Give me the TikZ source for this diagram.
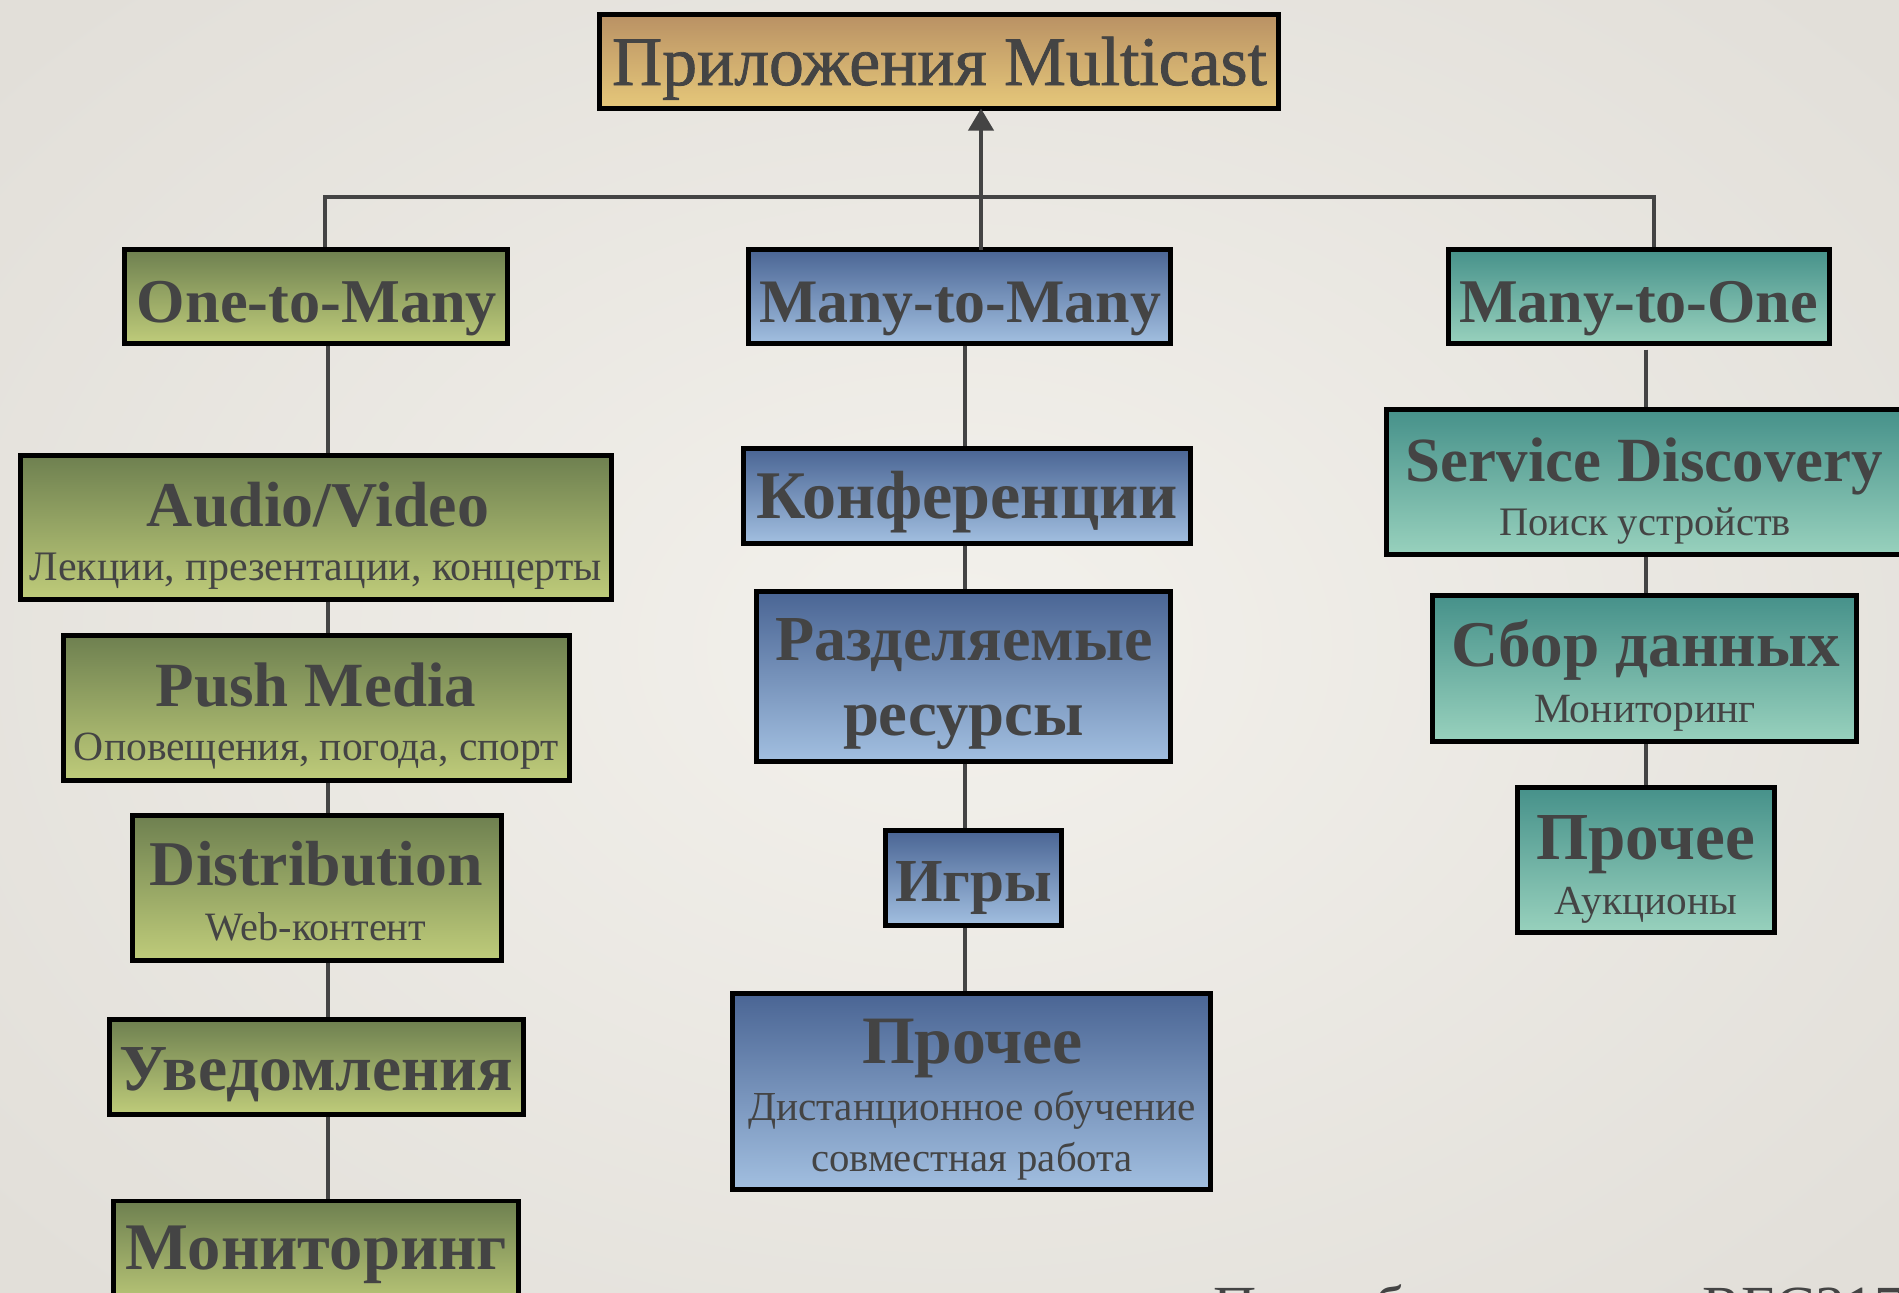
\documentclass[tikz,border=0pt]{standalone}
\usepackage{fontspec}
\setmainfont{Liberation Serif}
\newfontfamily\heavyserif[FakeBold=1.2]{Liberation Serif}
\usepackage{graphicx}
\usetikzlibrary{arrows.meta}

% one unit of the drawing grid
\newdimen\pxu \pxu=0.02cm
% set a text line at a given width (in grid units)
\newcommand\fitto[2]{\resizebox{#1\pxu}{!}{#2}}

\definecolor{ink}{RGB}{68,68,68}
\definecolor{paperC}{RGB}{243,241,236}
\definecolor{paperE}{RGB}{226,223,217}
\definecolor{goldT}{RGB}{185,145,100}
\definecolor{goldB}{RGB}{230,200,122}
\definecolor{greenT}{RGB}{110,128,80}
\definecolor{greenB}{RGB}{191,204,122}
\definecolor{blueT}{RGB}{74,101,148}
\definecolor{blueB}{RGB}{162,191,224}
\definecolor{tealT}{RGB}{70,145,138}
\definecolor{tealB}{RGB}{152,209,189}

\pgfdeclarelayer{bg}
\pgfsetlayers{bg,main}

\begin{document}
\begin{tikzpicture}[x=0.02cm,y=-0.02cm,
  box/.style 2 args={draw=black, line width=2.8pt, inner sep=0pt, outer sep=0pt,
    minimum width=#1*0.02cm, minimum height=#2*0.02cm},
  gold/.style={top color=goldT, bottom color=goldB},
  green/.style={top color=greenT, bottom color=greenB},
  blue/.style={top color=blueT, bottom color=blueB},
  teal/.style={top color=tealT, bottom color=tealB},
  ttltext/.style={anchor=base, inner sep=0pt, text=ink, font=\fontsize{30}{36}\heavyserif},
  lbl/.style={anchor=base, inner sep=0pt, text=ink, font=\fontsize{30}{36}\selectfont\bfseries},
  sub/.style={anchor=base, inner sep=0pt, text=ink, font=\fontsize{20}{24}\selectfont},
  conn/.style={draw=ink, line width=2.3pt},
  arr/.style={conn, -{Triangle[length=0.44cm, width=0.5cm]}}]

\useasboundingbox (0,0) rectangle (1899,1292);
\clip (0,0) rectangle (1899,1292);

% paper
\begin{pgfonlayer}{bg}
  \fill[inner color=paperC, outer color=paperE] (-300,-250) rectangle (2199,1542);
\end{pgfonlayer}

% root
\node[box={679}{94}, gold] (ttl) at (939,61.5) {};
\node[ttltext] (ttl-t) at (939.5,85) {\fitto{655}{Приложения Multicast}};

% categories
\node[box={383}{94}, green] (otm) at (316,296.5) {};
\node[lbl] (otm-t) at (317,322) {\fitto{360}{One-to-Many}};
\node[box={422}{94}, blue] (mtm) at (959.5,296.5) {};
\node[lbl] (mtm-t) at (960,322) {\fitto{402}{Many-to-Many}};
\node[box={381}{94}, teal] (mto) at (1639,296.5) {};
\node[lbl] (mto-t) at (1638.5,322) {\fitto{359}{Many-to-One}};

% one-to-many column
\node[box={591}{144}, green] (av) at (316,527.5) {};
\node[lbl] (av-t) at (318,526) {\fitto{342}{Audio/Video}};
\node[sub] (av-s) at (316,580) {\fitto{572}{Лекции, презентации, концерты}};
\node[box={506}{145}, green] (pm) at (316.5,708) {};
\node[lbl] (pm-t) at (316,706) {\fitto{320}{Push Media}};
\node[sub] (pm-s) at (316.5,760) {\fitto{485}{Оповещения, погода, спорт}};
\node[box={369}{145}, green] (ds) at (317,888) {};
\node[lbl] (ds-t) at (316.5,885) {\fitto{333}{Distribution}};
\node[sub] (ds-s) at (316,940) {\fitto{220}{Web-контент}};
\node[box={414}{95}, green] (uv) at (316.5,1067) {};
\node[lbl] (uv-t) at (316.5,1090) {\fitto{393}{Уведомления}};
\node[box={405}{110}, green] (mn) at (316,1256) {};
\node[lbl] (mn-t) at (316.5,1269) {\fitto{381}{Мониторинг}};

% many-to-many column
\node[box={447}{95}, blue] (cf) at (967,496) {};
\node[lbl] (cf-t) at (967,518) {\fitto{422}{Конференции}};
\node[box={414}{170}, blue] (rs) at (963.5,676.5) {};
\node[lbl] (rs-t) at (964,660) {\fitto{378}{Разделяемые}};
\node[lbl] (rs-t2) at (963.5,735) {\fitto{241}{ресурсы}};
\node[box={176}{95}, blue] (ig) at (973.5,878) {};
\node[lbl] (ig-t) at (973.5,901) {\fitto{157}{Игры}};
\node[box={478}{196}, blue] (pr) at (971.5,1091.5) {};
\node[lbl] (pr-t) at (972.5,1063) {\fitto{221}{Прочее}};
\node[sub] (pr-s) at (972,1120) {\fitto{448}{Дистанционное обучение}};
\node[sub] (pr-s2) at (972,1171) {\fitto{322}{совместная работа}};

% many-to-one column
\node[box={519}{145}, teal] (sd) at (1646,482) {};
\node[lbl] (sd-t) at (1644.5,481) {\fitto{477}{Service Discovery}};
\node[sub] (sd-s) at (1645,535) {\fitto{292}{Поиск устройств}};
\node[box={424}{146}, teal] (sb) at (1644.5,668.5) {};
\node[lbl] (sb-t) at (1645.5,666) {\fitto{389}{Сбор данных}};
\node[sub] (sb-s) at (1645,722) {\fitto{222}{Мониторинг}};
\node[box={257}{145}, teal] (po) at (1646,860) {};
\node[lbl] (po-t) at (1645.5,859) {\fitto{219}{Прочее}};
\node[sub] (po-s) at (1645.5,914) {\fitto{183}{Аукционы}};

% footnote, running off the lower edge
\node[anchor=base west, inner sep=0pt, text=ink, font=\fontsize{34}{40}\selectfont]
  (note) at (1213,1327) {Подробнее смотри RFC3170};

% connectors
\coordinate (hubL) at (325,197);
\coordinate (hubR) at (1654,197);
\coordinate (upX) at (981,197);
\coordinate (colL) at (328,0);
\coordinate (colM) at (965,0);
\coordinate (colR) at (1646,0);

\begin{pgfonlayer}{bg}
  \draw[conn] (otm.north -| hubL) -- (hubL) -- (hubR) -- (mto.north -| hubR);
  \draw[conn] (otm.south -| colL) -- (av.north -| colL);
  \draw[conn] (av.south -| colL) -- (pm.north -| colL);
  \draw[conn] (pm.south -| colL) -- (ds.north -| colL);
  \draw[conn] (ds.south -| colL) -- (uv.north -| colL);
  \draw[conn] (uv.south -| colL) -- (mn.north -| colL);
  \draw[conn] (mtm.south -| colM) -- (cf.north -| colM);
  \draw[conn] (cf.south -| colM) -- (rs.north -| colM);
  \draw[conn] (rs.south -| colM) -- (ig.north -| colM);
  \draw[conn] (ig.south -| colM) -- (pr.north -| colM);
  \draw[conn] ([yshift=-6*0.02cm]mto.south -| colR) -- (sd.north -| colR);
  \draw[conn] (sd.south -| colR) -- (sb.north -| colR);
  \draw[conn] (sb.south -| colR) -- (po.north -| colR);
\end{pgfonlayer}
\draw[arr] (mtm.north -| upX) -- (ttl.south -| upX);

\end{tikzpicture}
\end{document}
